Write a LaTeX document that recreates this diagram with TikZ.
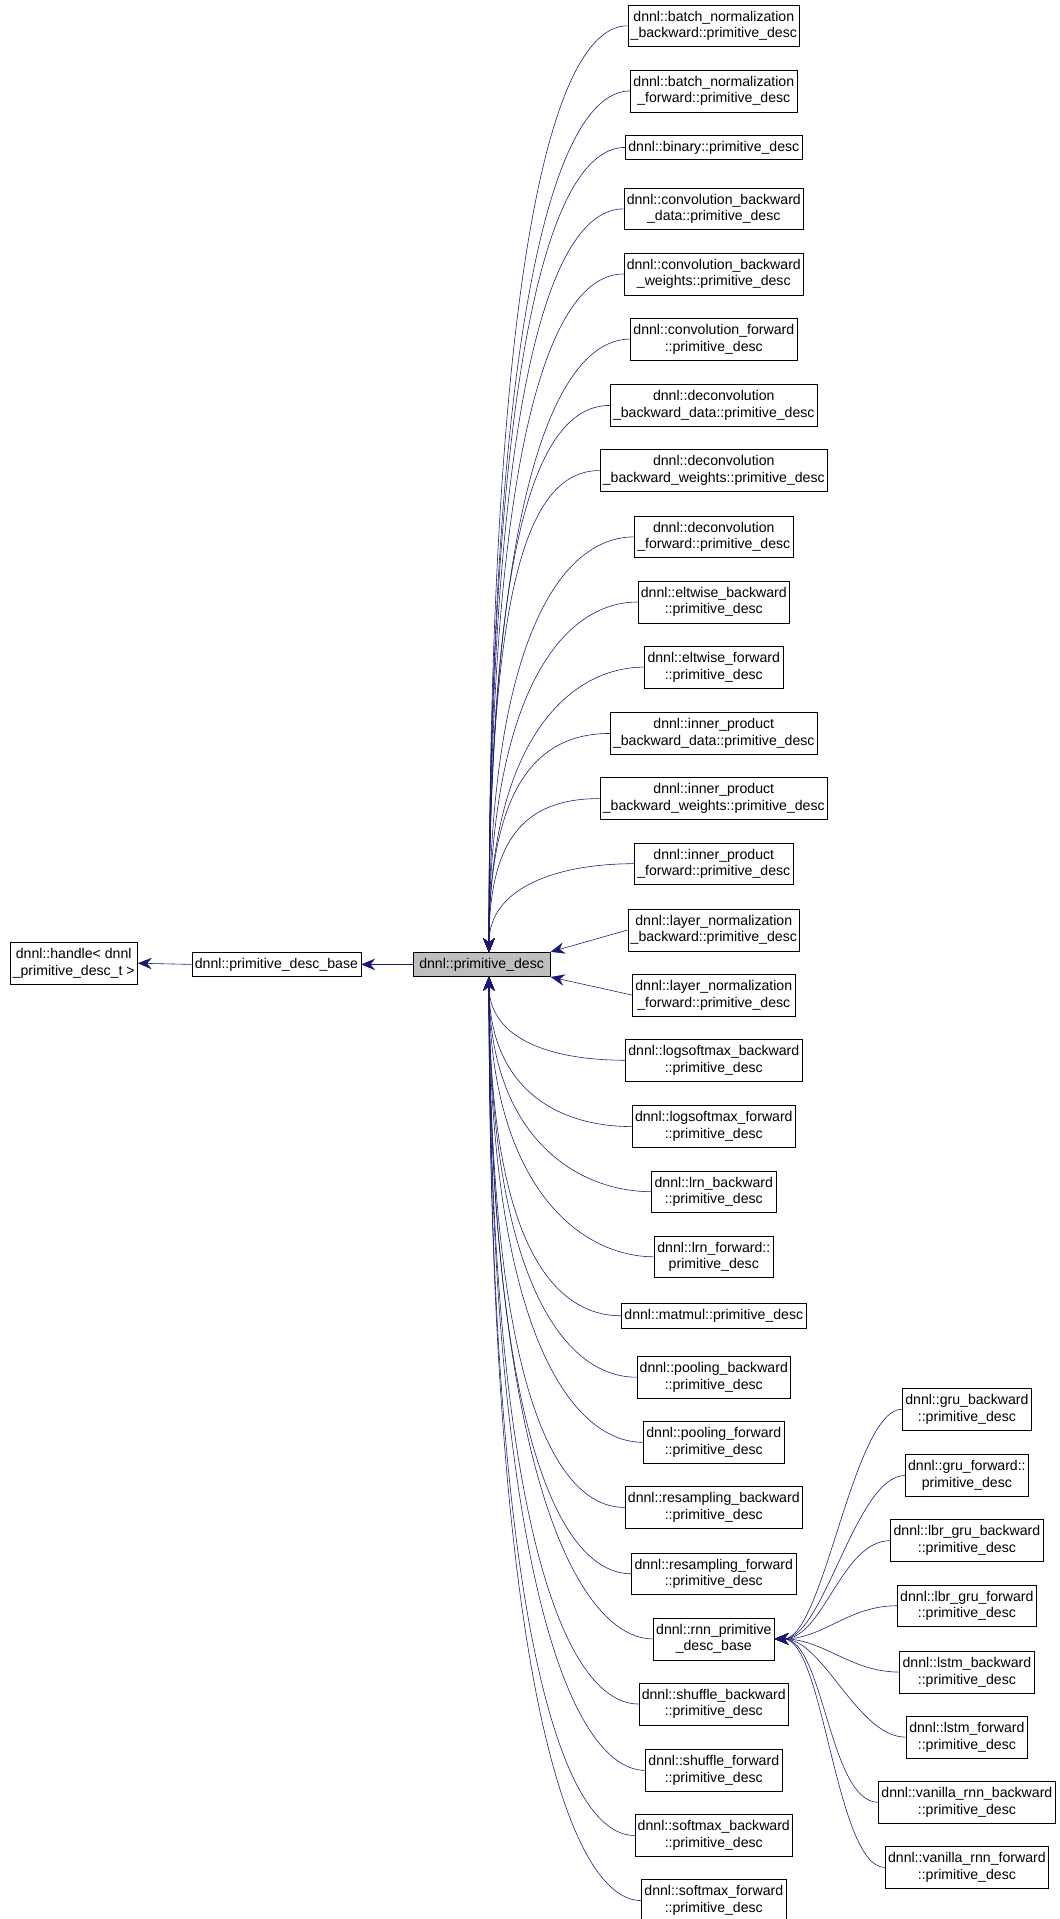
\documentclass[tikz,border=0pt]{standalone}
\usepackage{fontspec}
\setmainfont{Liberation Sans}
\usetikzlibrary{positioning,arrows.meta,calc}
\definecolor{EdgeBlue}{RGB}{25,25,112}
\tikzset{
    classnode/.style={rectangle, draw=black, fill=white, thin, align=center,
        inner sep=2pt, font=\fontsize{9.8}{11.5}\selectfont},
    edge/.style={draw=EdgeBlue, thin, {Stealth[length=3.4mm,width=2.8mm]}-}
}
\begin{document}
\begin{tikzpicture}[x=0.3mm,y=-0.3mm]
    \useasboundingbox (0,0) rectangle (862,1562);
    % base classes
    \node[classnode, minimum height=10.2mm] (handle) at (60,784) {dnnl::handle< dnnl\\\_primitive\_desc\_t >};
    \node[classnode, minimum height=6mm] (pdbase) at (225,785) {dnnl::primitive\_desc\_base};
    \node[classnode, fill=black!25, minimum height=6mm, minimum width=33.6mm] (pd) at (392,785) {dnnl::primitive\_desc};
    \draw[edge] (handle.east) -- (pdbase.west);
    \draw[edge] (pdbase.east) -- (pd.west);
    \coordinate (pdtop) at (398,775);
    \coordinate (pdbot) at (398,795);
    % derived classes, upper fan
    \foreach \name/\y/\h/\txt in {
        bnb/21/10.2/{dnnl::batch\_normalization\\\_backward::primitive\_desc},
        bnf/74/10.2/{dnnl::batch\_normalization\\\_forward::primitive\_desc},
        bin/120/6/{dnnl::binary::primitive\_desc},
        cbd/170/10.2/{dnnl::convolution\_backward\\\_data::primitive\_desc},
        cbw/223/10.2/{dnnl::convolution\_backward\\\_weights::primitive\_desc},
        cf/276/10.2/{dnnl::convolution\_forward\\::primitive\_desc},
        dbd/330/10.2/{dnnl::deconvolution\\\_backward\_data::primitive\_desc},
        dbw/383/10.2/{dnnl::deconvolution\\\_backward\_weights::primitive\_desc},
        df/437/10.2/{dnnl::deconvolution\\\_forward::primitive\_desc},
        eb/490/10.2/{dnnl::eltwise\_backward\\::primitive\_desc},
        ef/543/10.2/{dnnl::eltwise\_forward\\::primitive\_desc},
        ipbd/597/10.2/{dnnl::inner\_product\\\_backward\_data::primitive\_desc},
        ipbw/650/10.2/{dnnl::inner\_product\\\_backward\_weights::primitive\_desc},
        ipf/703/10.2/{dnnl::inner\_product\\\_forward::primitive\_desc}}
    {
        \node[classnode, minimum height=\h mm] (\name) at (581,\y) {\txt};
        \draw[edge] (pdtop) .. controls ($(pdtop)!0.75!(pdtop|-\name.west)$)
            and ($(\name.west)+(-60,0)$) .. (\name.west);
    }
    % nearly horizontal ones
    \node[classnode, minimum height=10.2mm] (lnb) at (581,757) {dnnl::layer\_normalization\\\_backward::primitive\_desc};
    \node[classnode, minimum height=10.2mm] (lnf) at (581,810) {dnnl::layer\_normalization\\\_forward::primitive\_desc};
    \draw[edge] (pd.north east) -- (lnb.west);
    \draw[edge] (pd.south east) -- (lnf.west);
    % derived classes, lower fan
    \foreach \name/\y/\h/\txt in {
        lsb/863/10.2/{dnnl::logsoftmax\_backward\\::primitive\_desc},
        lsf/917/10.2/{dnnl::logsoftmax\_forward\\::primitive\_desc},
        lrnb/970/10.2/{dnnl::lrn\_backward\\::primitive\_desc},
        lrnf/1023/10.2/{dnnl::lrn\_forward::\\primitive\_desc},
        mm/1071/6/{dnnl::matmul::primitive\_desc},
        pb/1121/10.2/{dnnl::pooling\_backward\\::primitive\_desc},
        pf/1174/10.2/{dnnl::pooling\_forward\\::primitive\_desc},
        rb/1227/10.2/{dnnl::resampling\_backward\\::primitive\_desc},
        rf/1281/10.2/{dnnl::resampling\_forward\\::primitive\_desc},
        rnn/1334/10.2/{dnnl::rnn\_primitive\\\_desc\_base},
        sb/1387/10.2/{dnnl::shuffle\_backward\\::primitive\_desc},
        sf/1441/10.2/{dnnl::shuffle\_forward\\::primitive\_desc},
        smb/1494/10.2/{dnnl::softmax\_backward\\::primitive\_desc},
        smf/1547/10.2/{dnnl::softmax\_forward\\::primitive\_desc}}
    {
        \node[classnode, minimum height=\h mm] (\name) at (581,\y) {\txt};
        \draw[edge] (pdbot) .. controls ($(pdbot)!0.75!(pdbot|-\name.west)$)
            and ($(\name.west)+(-60,0)$) .. (\name.west);
    }
    % rnn classes
    \foreach \name/\y/\txt in {
        grub/1147/{dnnl::gru\_backward\\::primitive\_desc},
        gruf/1201/{dnnl::gru\_forward::\\primitive\_desc},
        lgrub/1254/{dnnl::lbr\_gru\_backward\\::primitive\_desc},
        lgruf/1307/{dnnl::lbr\_gru\_forward\\::primitive\_desc},
        lstmb/1361/{dnnl::lstm\_backward\\::primitive\_desc},
        lstmf/1414/{dnnl::lstm\_forward\\::primitive\_desc},
        vrb/1467/{dnnl::vanilla\_rnn\_backward\\::primitive\_desc},
        vrf/1520/{dnnl::vanilla\_rnn\_forward\\::primitive\_desc}}
    {
        \node[classnode, minimum height=10.2mm] (\name) at (787,\y) {\txt};
        \draw[edge] (rnn.east) .. controls ($(rnn.east)+(40,0)$)
            and ($(\name.west)+(-40,0)$) .. (\name.west);
    }
\end{tikzpicture}
\end{document}
